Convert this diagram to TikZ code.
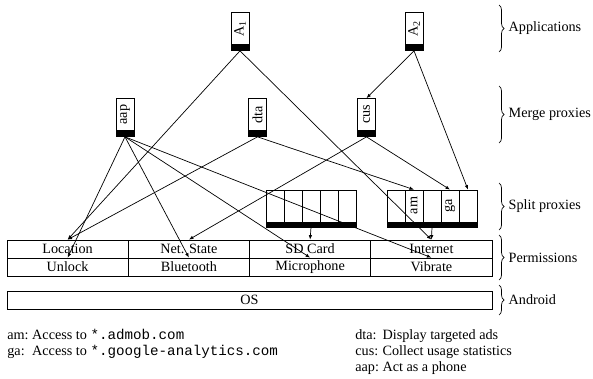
\documentclass[tikz,border=0pt]{standalone}
\usepackage{fontspec}
\setmainfont{Liberation Serif}
\setmonofont{Liberation Mono}
\usetikzlibrary{arrows.meta}
\usetikzlibrary{decorations.pathreplacing}
\tikzset{
  every picture/.style={
    line width=0.7pt,
    >={Latex[width=3.5pt, length=4.5pt]}
  },
  proxy/.style={
    draw, minimum width=18pt, minimum height=38pt,
    inner sep=0pt,
    path picture={\fill ([yshift=6pt]path picture bounding box.south west)
      rectangle (path picture bounding box.south east);}
  },
  cell/.style={
    draw, minimum width=18pt, minimum height=37pt,
    inner sep=0pt,
    path picture={\fill ([yshift=5pt]path picture bounding box.south west)
      rectangle (path picture bounding box.south east);}
  },
  perm/.style={
    draw, minimum width=121.25pt, minimum height=18pt,
    inner sep=0pt
  },
  layer/.style={
    decorate, decoration={brace, amplitude=5pt}
  }
}
\newcommand{\vtext}[1]{\raisebox{3pt}[\height][\depth]{\rotatebox{90}{#1}}}

\begin{document}
\begin{tikzpicture}[x=1pt, y=-1pt, font=\fontsize{14.2}{16}\selectfont]
  \useasboundingbox (0,0) rectangle (593,379);
  % applications
  \node[proxy] (a1) at (240,31.5) {\vtext{A\textsubscript{1}}};
  \node[proxy] (a2) at (414,31.5) {\vtext{A\textsubscript{2}}};
  % merge proxies
  \node[proxy] (aap) at (125,117.5) {\vtext{aap}};
  \node[proxy] (dta) at (257.5,117.5) {\vtext{dta}};
  \node[proxy] (cus) at (366.5,117.5) {\vtext{cus}};
  % split proxies
  \foreach \i/\t in {1/,2/am,3/,4/ga,5/} {
    \node[cell] (sa\i) at (257+18*\i,208.5) {};
    \node[cell] (sb\i) at (378+18*\i,208.5) {\vtext{\t}};
  }
  % permissions
  \node[perm] (loc)  at (67.6,249)  {Location};
  \node[perm] (net)  at (188.9,249) {Net. State};
  \node[perm] (sd)   at (310.1,249) {SD Card};
  \node[perm] (inet) at (431.4,249) {Internet};
  \node[perm] (unl)  at (67.6,267)  {Unlock};
  \node[perm] (bt)   at (188.9,267) {Bluetooth};
  \node[perm] (mic)  at (310.1,267) {Microphone};
  \node[perm] (vib)  at (431.4,267) {Vibrate};
  % android
  \node[draw, minimum width=485pt, minimum height=18pt,
    inner sep=0pt] (os) at (249.5,300) {OS};

  \draw[->] (a1.south) -- (loc.north);
  \draw[->] (a1.south) -- (inet.north);
  \draw[->] (a2.south) -- (cus.north);
  \draw[->] (a2.south) -- (sb5.north);
  \draw[->] (aap.south) -- (unl.north);
  \draw[->] (aap.south) -- (bt.north);
  \draw[->] (aap.south) -- (mic.north);
  \draw[->] (aap.south) -- (vib.north);
  \draw[->] (dta.south) -- (loc.north);
  \draw[->] (dta.south) -- (sb2.north);
  \draw[->] (cus.south) -- (net.north);
  \draw[->] (cus.south) -- (sb4.north);
  \draw[->] (sa3.south) -- (sd.north);
  \draw[->] (sb3.south) -- (inet.north);

  % layers
  \draw[layer] (499,5) -- (499,52)
    node[midway, right=6pt] (lapp) {Applications};
  \draw[layer] (499,86) -- (499,143)
    node[midway, right=6pt] (lmerge) {Merge proxies};
  \draw[layer] (499,183) -- (499,230)
    node[midway, right=6pt] (lsplit) {Split proxies};
  \draw[layer] (499,235) -- (499,280)
    node[midway, right=6pt] (lperm) {Permissions};
  \draw[layer] (499,285) -- (499,315)
    node[midway, right=6pt] (landr) {Android};

  % key
  \node[anchor=base west, inner sep=0pt] (keyl) at (7,339)
    {\begin{tabular}[t]{@{}l@{\ }l@{}}
      am: & Access to \texttt{*.admob.com}\\
      ga: & Access to \texttt{*.google-analytics.com}
    \end{tabular}};
  \node[anchor=base west, inner sep=0pt] (keyr) at (355,339)
    {\begin{tabular}[t]{@{}l@{\ }l@{}}
      dta: & Display targeted ads\\
      cus: & Collect usage statistics\\
      aap: & Act as a phone
    \end{tabular}};
\end{tikzpicture}
\end{document}
